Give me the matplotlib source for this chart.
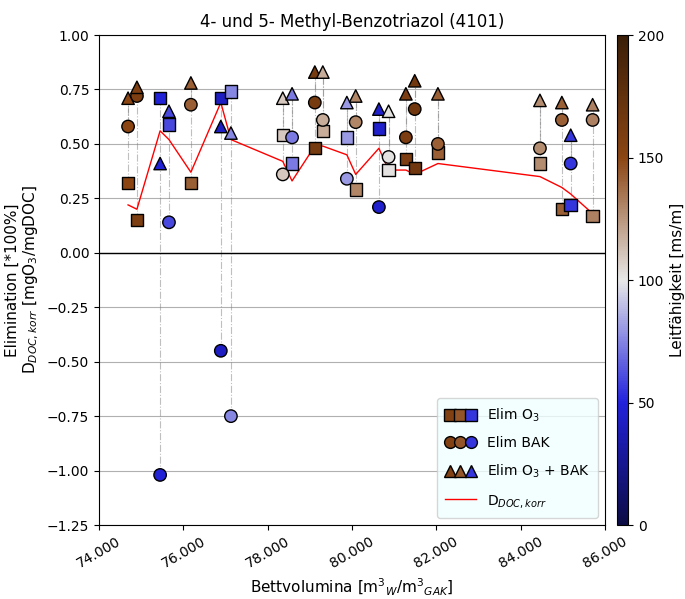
import matplotlib
matplotlib.use("Agg")
import matplotlib.pyplot as plt
import numpy as np
from matplotlib.colors import LinearSegmentedColormap, Normalize
from matplotlib.legend_handler import HandlerTuple
from matplotlib.lines import Line2D
from matplotlib.ticker import FuncFormatter

# Bed volumes [m3_W / m3_GAK]
bed_volumes = [74690, 74900, 75450, 75660, 76180, 76890, 77130, 78360, 78580, 79120, 79310,
               79880, 80090, 80640, 80870, 81280, 81490, 82040, 84460, 84980, 85190, 85710]
# Elimination after ozonation
elim_o3 = [0.32, 0.15, 0.71, 0.59, 0.32, 0.71, 0.74, 0.54, 0.41, 0.48, 0.56,
           0.53, 0.29, 0.57, 0.38, 0.43, 0.39, 0.46, 0.41, 0.20, 0.22, 0.17]
# Elimination in the biological activated carbon stage
elim_bak = [0.58, 0.72, -1.02, 0.14, 0.68, -0.45, -0.75, 0.36, 0.53, 0.69, 0.61,
            0.34, 0.60, 0.21, 0.44, 0.53, 0.66, 0.50, 0.48, 0.61, 0.41, 0.61]
# Total elimination ozonation + BAK
elim_total = [0.71, 0.76, 0.41, 0.65, 0.78, 0.58, 0.55, 0.71, 0.73, 0.83, 0.83,
              0.69, 0.72, 0.66, 0.65, 0.73, 0.79, 0.73, 0.70, 0.69, 0.54, 0.68]
# Specific ozone dose D_DOC,korr [mgO3/mgDOC]
d_doc_korr = [0.22, 0.20, 0.56, 0.52, 0.37, 0.69, 0.52, 0.42, 0.33, 0.49, 0.49,
              0.45, 0.36, 0.48, 0.38, 0.38, 0.36, 0.41, 0.35, 0.30, 0.27, 0.18]
# Electrical conductivity [ms/m]
conductivity = [150, 158, 48, 60, 142, 42, 75, 110, 72, 162, 118,
                80, 130, 45, 102, 160, 166, 142, 128, 142, 55, 132]

cmap = LinearSegmentedColormap.from_list(
    "leitf", [(0.0, "#0c0c45"), (0.25, "#2222dd"), (0.5, "#e8e8e8"),
              (0.75, "#8b4513"), (1.0, "#3a1e08")])
norm = Normalize(vmin=0, vmax=200)

fig = plt.figure(figsize=(6.85, 5.99), dpi=100)
ax = fig.add_axes([0.1445, 0.1235, 0.7385, 0.818])
cax = fig.add_axes([0.9007, 0.1235, 0.016, 0.818])

x = np.array(bed_volumes)
o3 = np.array(elim_o3)
bak = np.array(elim_bak)
tot = np.array(elim_total)

# connectors between the stages of each sample
for xi, a, b, c in zip(x, o3, bak, tot):
    ax.plot([xi, xi], [a, c], ls="-.", color="gray", lw=0.8, alpha=0.5, zorder=1)
    ax.plot([xi, xi], [b, c], ls="-.", color="gray", lw=0.8, alpha=0.5, zorder=1)

ax.axhline(0, color="black", lw=1.0, zorder=1)
ax.plot(x, d_doc_korr, color="red", lw=1.0, zorder=2)

kw = dict(c=conductivity, cmap=cmap, norm=norm, s=80, edgecolors="black",
          linewidths=1.0, zorder=3)
ax.scatter(x, o3, marker="s", **kw)
ax.scatter(x, bak, marker="o", **kw)
sc = ax.scatter(x, tot, marker="^", **kw)

ax.set_xlim(74000, 86000)
ax.set_ylim(-1.25, 1.0)
ax.set_yticks(np.arange(-1.25, 1.01, 0.25))
ax.set_xticks(np.arange(74000, 86001, 2000))
ax.xaxis.set_major_formatter(FuncFormatter(lambda v, p: f"{v:,.0f}".replace(",", ".")))
for lbl in ax.get_xticklabels():
    lbl.set_rotation(30)
    lbl.set_ha("center")
ax.grid(axis="y", color="#b0b0b0", lw=0.8, zorder=0)
ax.set_axisbelow(True)

ax.set_title("4- und 5- Methyl-Benzotriazol (4101)", fontsize=12)
ax.set_xlabel(r"Bettvolumina [m$^3$$_W$/m$^3$$_{GAK}$]", fontsize=11)
ax.set_ylabel("Elimination [*100%]\n" + r"D$_{DOC,korr}$ [mgO$_3$/mgDOC]", fontsize=11)

cb = fig.colorbar(sc, cax=cax)
cb.set_ticks([0, 50, 100, 150, 200])
cb.set_label("Leitfähigkeit [ms/m]", fontsize=11)

c1, c2, c3 = cmap(norm(155)), cmap(norm(145)), cmap(norm(55))
def trio(marker):
    return tuple(Line2D([], [], ls="none", marker=marker, markersize=8.5,
                        markerfacecolor=c, markeredgecolor="black")
                 for c in (c1, c2, c3))

handles = [trio("s"), trio("o"), trio("^"), Line2D([], [], color="red", lw=1.0)]
labels = [r"Elim O$_3$", "Elim BAK", r"Elim O$_3$ + BAK", r"D$_{DOC,korr}$"]
ax.legend(handles, labels, loc="lower right", facecolor="azure",
          handler_map={tuple: HandlerTuple(ndivide=None, pad=0.0)},
          fontsize=10, borderpad=0.6, labelspacing=0.9, handlelength=2.2)

fig.savefig("out.png", dpi=100)
